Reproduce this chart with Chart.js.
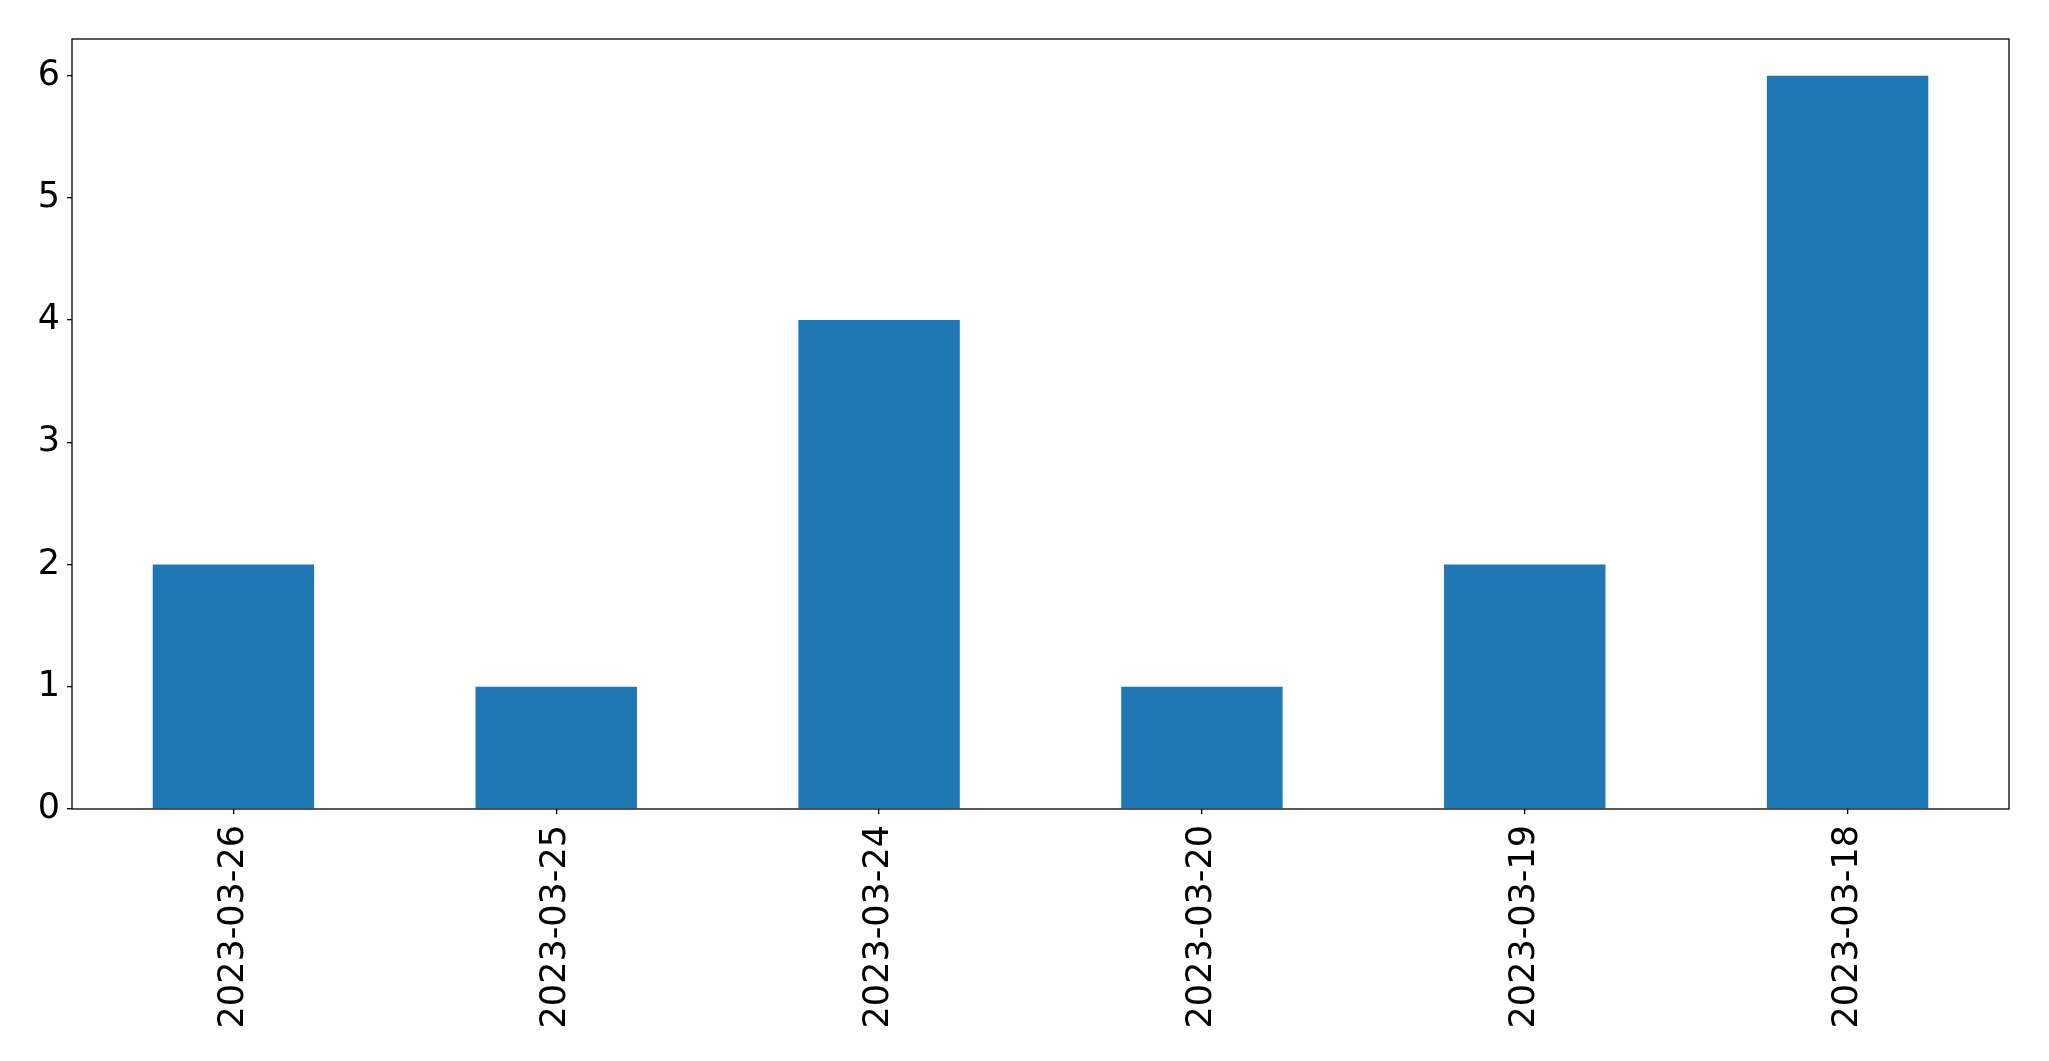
<!DOCTYPE html>
<html>
<head>
<meta charset="utf-8">
<script src="https://cdn.jsdelivr.net/npm/chart.js@4/dist/chart.umd.min.js"></script>
<style>
  html, body { margin: 0; padding: 0; background: #fff; }
  #wrap { width: 2049px; height: 1061px; }
</style>
</head>
<body>
<div id="wrap"><canvas id="barChart" width="2049" height="1061"></canvas></div>
<script>
// data
const dates = ["2023-03-26", "2023-03-25", "2023-03-24", "2023-03-20", "2023-03-19", "2023-03-18"];
const counts = [2, 1, 4, 1, 2, 6];
const yTicks = [0, 1, 2, 3, 4, 5, 6];

// box round the plot area, like matplotlib's spines
const frame = {
  id: "frame",
  afterDraw(chart) {
    const { ctx, chartArea: a } = chart;
    ctx.save();
    ctx.strokeStyle = "#000";
    ctx.lineWidth = 1.3;
    ctx.strokeRect(a.left, a.top, a.right - a.left, a.bottom - a.top);
    ctx.restore();
  },
};

const font = { family: "'DejaVu Sans', sans-serif", size: 35 };

new Chart(document.getElementById("barChart"), {
  type: "bar",
  data: {
    labels: dates,
    datasets: [{
      data: counts,
      backgroundColor: "#1f77b4",
      categoryPercentage: 0.5,
      barPercentage: 1.0,
    }],
  },
  options: {
    responsive: false,
    animation: false,
    layout: { padding: { top: 39, right: 40, left: 0, bottom: 0 } },
    plugins: { legend: { display: false }, tooltip: { enabled: false } },
    scales: {
      x: {
        offset: true,
        grid: { display: true, offset: false, drawOnChartArea: false, tickLength: 5, color: "#000", lineWidth: 1.3 },
        border: { display: false },
        ticks: { font, color: "#000", maxRotation: 90, minRotation: 90, padding: 11, autoSkip: false },
        afterFit(s) { s.height = 252; },
      },
      y: {
        min: 0,
        max: 6.3,
        grid: { display: true, drawOnChartArea: false, tickLength: 5, color: "#000", lineWidth: 1.3 },
        border: { display: false },
        ticks: { font, color: "#000", padding: 7, stepSize: 1 },
        afterBuildTicks(s) { s.ticks = yTicks.map((v) => ({ value: v })); },
        afterFit(s) { s.width = 72; },
      },
    },
  },
  plugins: [frame],
});
</script>
</body>
</html>
